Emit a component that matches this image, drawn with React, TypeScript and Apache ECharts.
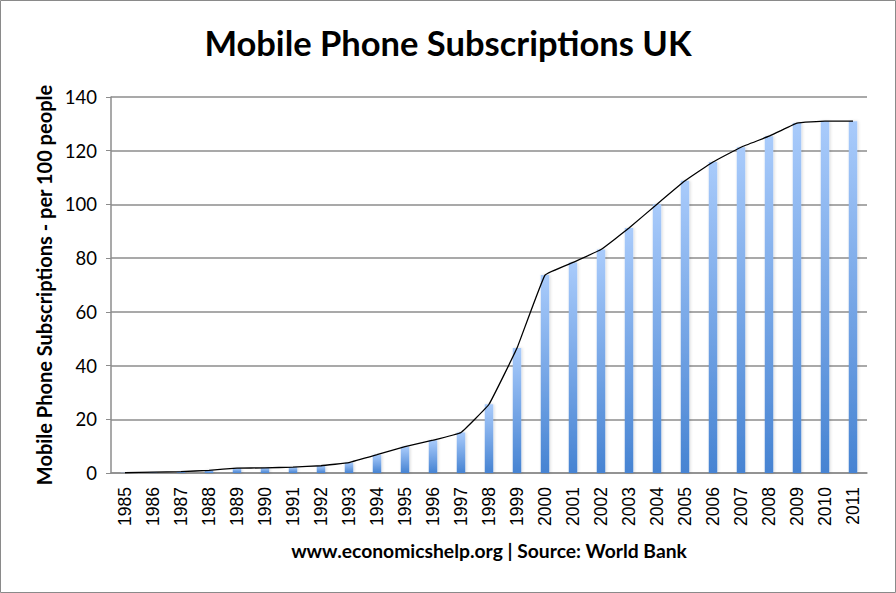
import React, { useEffect, useRef } from "react";
import * as echarts from "echarts";

const years = ["1985","1986","1987","1988","1989","1990","1991","1992","1993","1994","1995","1996","1997","1998","1999","2000","2001","2002","2003","2004","2005","2006","2007","2008","2009","2010","2011"];
const subscriptions = [0.1, 0.3, 0.5, 1.0, 1.8, 1.9, 2.2, 2.7, 3.9, 6.8, 9.8, 12.2, 15.1, 25.6, 46.5, 73.7, 78.4, 83.2, 91.2, 100.1, 108.8, 115.8, 121.3, 125.4, 130.3, 131.0, 131.0];
const yTicks = { min: 0, max: 140, interval: 20 };

const titleText = "Mobile Phone Subscriptions UK";
const yAxisTitle = "Mobile Phone Subscriptions - per 100 people";
const xAxisTitle = "www.economicshelp.org | Source: World Bank";

export default function App() {
  const ref = useRef<HTMLDivElement>(null);
  useEffect(() => {
    const chart = echarts.init(ref.current!, null, { renderer: "svg" });
    const font = "Lato, 'Open Sans', sans-serif";
    chart.setOption({
      animation: false,
      backgroundColor: "#ffffff",
      title: {
        text: titleText,
        left: "center",
        top: 20,
        textStyle: { fontFamily: font, fontWeight: "bold", fontSize: 34.5, color: "#000" },
      },
      graphic: [
        {
          type: "rect",
          shape: { x: 0.5, y: 0.5, width: 895, height: 592 },
          style: { fill: "none", stroke: "#8a8a8a", lineWidth: 1 },
          silent: true,
        },
      ],
      grid: { left: 111, right: 29, top: 97, bottom: 120 },
      xAxis: {
        type: "category",
        data: years,
        boundaryGap: true,
        axisLine: { lineStyle: { color: "#8c8c8c", width: 1.5 } },
        axisTick: { show: false },
        axisLabel: { rotate: 90, margin: 14, fontFamily: "'Liberation Sans', Arial, sans-serif", fontSize: 17.5, color: "#000" },
        name: xAxisTitle,
        nameLocation: "middle",
        nameGap: 68,
        nameTextStyle: { fontFamily: font, fontWeight: "bold", fontSize: 19.3, color: "#000" },
      },
      yAxis: {
        type: "value",
        min: yTicks.min,
        max: yTicks.max,
        interval: yTicks.interval,
        axisLine: { show: true, lineStyle: { color: "#8c8c8c", width: 1.5 } },
        axisTick: { show: true, length: 5, lineStyle: { color: "#8c8c8c" } },
        splitLine: { lineStyle: { color: "#8c8c8c", width: 1.5 } },
        axisLabel: { margin: 14, fontFamily: font, fontSize: 18.5, color: "#000" },
        name: yAxisTitle,
        nameLocation: "middle",
        nameRotate: 90,
        nameGap: 55,
        nameTextStyle: { fontFamily: font, fontWeight: "bold", fontSize: 20, color: "#000" },
      },
      series: [
        {
          type: "bar",
          data: subscriptions,
          barWidth: 8.5,
          itemStyle: {
            color: new echarts.graphic.LinearGradient(0, 0, 0, 1, [
              { offset: 0, color: "#a9cbfb" },
              { offset: 1, color: "#4683d2" },
            ]),
            shadowColor: "rgba(0,0,0,0.15)",
            shadowBlur: 3,
            shadowOffsetX: 1,
          },
          z: 2,
        },
        {
          type: "line",
          data: subscriptions,
          smooth: 0.08,
          symbol: "none",
          lineStyle: { color: "#000", width: 1.3 },
          z: 3,
        },
      ],
    });
    return () => chart.dispose();
  }, []);
  return <div ref={ref} style={{ position: "fixed", left: 0, top: 0, width: 896, height: 593 }} />;
}
